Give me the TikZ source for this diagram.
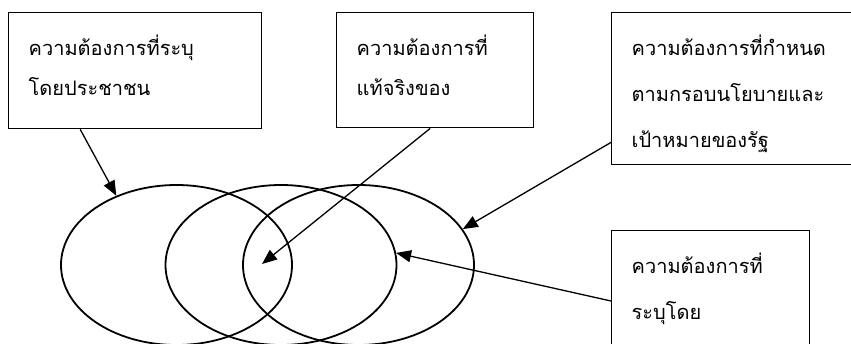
\documentclass[tikz,border=0pt]{standalone}
\usepackage{fontspec}
\newfontfamily\thaifont[Script=Thai]{Loma}
\usetikzlibrary{arrows.meta,shapes.geometric,positioning}
\definecolor{ink}{HTML}{000000}
\tikzset{
  need_box/.style={draw=ink,line width=1.4pt,anchor=north west,inner xsep=20pt,inner ysep=0pt,
    text height=43pt,align=left,font=\thaifont\fontsize{20}{40}\selectfont},
  need_box_wide/.style={need_box,font=\thaifont\fontsize{20}{46}\selectfont},
  need_ring/.style={ellipse,draw=ink,line width=1.8pt,minimum width=231pt,minimum height=160pt,inner sep=0pt},
  arr/.style={-{Triangle[length=15pt,width=12pt]},draw=ink,line width=1.3pt},
}
\begin{document}
\begin{tikzpicture}[x=1pt,y=-1pt]
  \useasboundingbox (0,0) rectangle (851,343);

  % three overlapping needs
  \node[need_ring] (e1) at (176.5,265) {};
  \node[need_ring] (e2) at (281,265) {};
  \node[need_ring] (e3) at (358.5,265) {};
  \coordinate (core) at (262,264);

  % labels
  \node[need_box,text width=213pt,text depth=73pt] (b1) at (8,12) {ความต้องการที่ระบุ\\โดยประชาชน};
  \node[need_box,text width=157pt,text depth=72pt] (b2) at (336,12) {ความต้องการที่\\แท้จริงของ};
  \node[need_box_wide,text width=220pt,text depth=109pt] (b3) at (611,12) {ความต้องการที่กำหนด\\ตามกรอบนโยบายและ\\เป้าหมายของรัฐ};
  \node[need_box_wide,text width=158pt,text depth=87pt] (b4) at (611,230) {ความต้องการที่\\ระบุโดย};

  \draw[arr]([xshift=-55pt]b1.south)--(e1.131);
  \draw[arr]([xshift=-5pt]b2.south)--(core);
  \draw[arr]([yshift=23pt]b3.south west)--(e3.19);
  \draw[arr]([yshift=-71pt]b4.north west)--(e2.6);
\end{tikzpicture}
\end{document}
